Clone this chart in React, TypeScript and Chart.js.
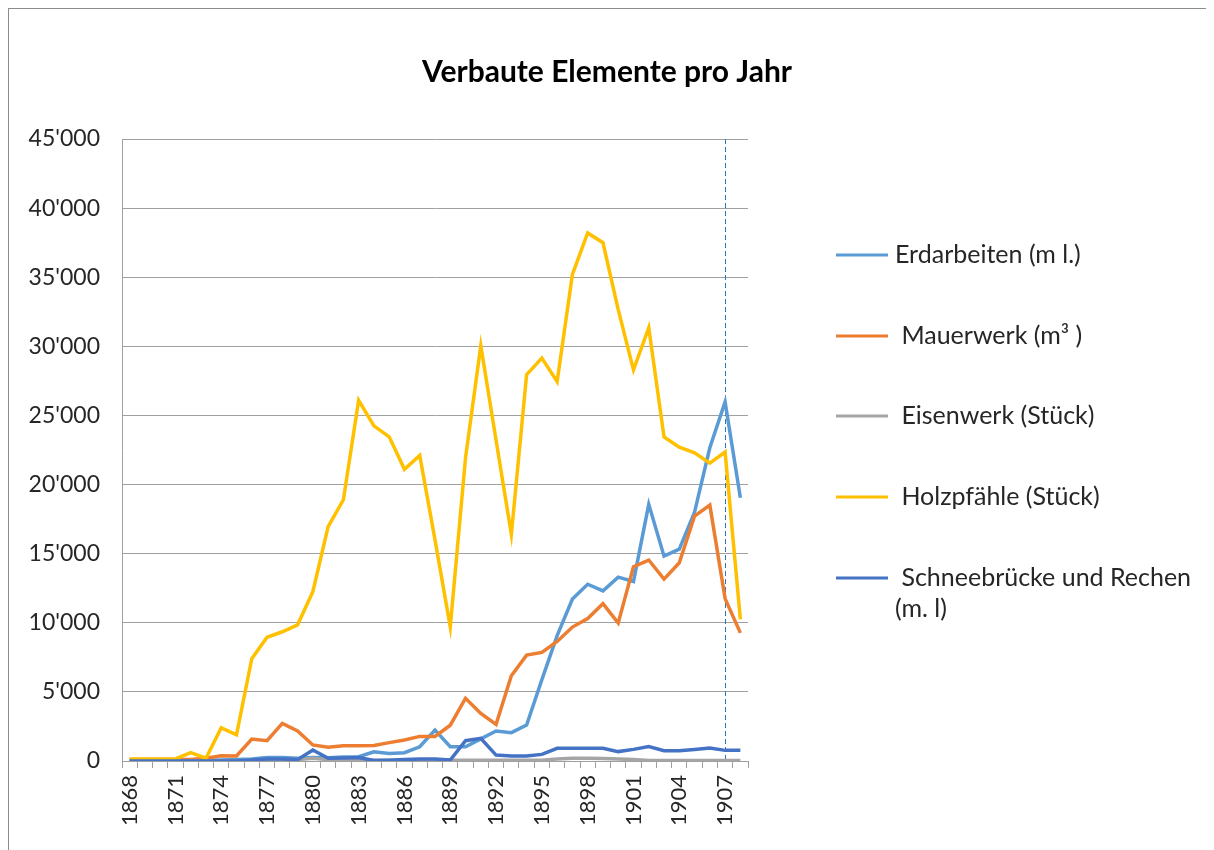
import React, { useEffect, useRef } from "react";
import { Chart, registerables } from "chart.js";

Chart.register(...registerables);

const years = [
  "1868", "1869", "1870", "1871", "1872", "1873", "1874", "1875", "1876", "1877",
  "1878", "1879", "1880", "1881", "1882", "1883", "1884", "1885", "1886", "1887",
  "1888", "1889", "1890", "1891", "1892", "1893", "1894", "1895", "1896", "1897",
  "1898", "1899", "1900", "1901", "1902", "1903", "1904", "1905", "1906", "1907",
  "1908",
];

const erdarbeiten = [
  30, 30, 30, 30, 30, 50, 80, 100, 150, 250,
  250, 200, 250, 240, 290, 310, 670, 550, 600, 1030,
  2240, 1030, 1030, 1600, 2170, 2050, 2600, 5890, 9070, 11720,
  12790, 12310, 13300, 12990, 18570, 14820, 15330, 18010, 22660, 25980,
  19050,
];

const mauerwerk = [
  100, 100, 100, 100, 100, 200, 380, 360, 1590, 1470,
  2720, 2170, 1160, 990, 1110, 1110, 1130, 1330, 1520, 1780,
  1780, 2590, 4540, 3440, 2650, 6170, 7660, 7860, 8650, 9690,
  10310, 11380, 9980, 14060, 14540, 13160, 14340, 17720, 18510, 11750,
  9270,
];

const eisenwerk = [
  0, 0, 0, 0, 0, 0, 0, 0, 50, 80,
  100, 100, 200, 100, 50, 50, 50, 50, 50, 50,
  50, 50, 50, 50, 50, 50, 50, 50, 150, 200,
  200, 180, 150, 100, 30, 30, 30, 30, 30, 30,
  30,
];

const holzpfaehle = [
  150, 150, 150, 150, 600, 200, 2400, 1900, 7400, 8950,
  9350, 9850, 12250, 16950, 18900, 26100, 24250, 23450, 21100, 22100,
  16000, 9700, 21950, 30050, 23200, 16400, 27950, 29150, 27450, 35200,
  38200, 37500, 32650, 28300, 31350, 23450, 22700, 22300, 21550, 22350,
  10250,
];

const schneebruecke = [
  0, 0, 0, 0, 0, 0, 0, 0, 80, 150,
  150, 100, 800, 200, 220, 250, 30, 60, 100, 145,
  145, 70, 1470, 1640, 430, 360, 360, 480, 920, 920,
  920, 920, 680, 840, 1040, 750, 750, 840, 940, 770,
  770,
];

const seriesLabels = [
  ["Erdarbeiten (m l.)"],
  [" Mauerwerk (m³ )"],
  [" Eisenwerk (Stück)"],
  [" Holzpfähle (Stück)"],
  [" Schneebrücke und Rechen", "(m. l)"],
];

const seriesColors = ["#5b9bd5", "#ed7d31", "#a5a5a5", "#ffc000", "#4472c4"];

const yTicks = [0, 5000, 10000, 15000, 20000, 25000, 30000, 35000, 40000, 45000];

const chartTitle = "Verbaute Elemente pro Jahr";
const markerYear = "1907";

const FONT = "Lato, 'Open Sans', sans-serif";

function fmt(v: number): string {
  return String(v).replace(/\B(?=(\d{3})+(?!\d))/g, "'");
}

const overlayPlugin = {
  id: "overlay",
  beforeDatasetsDraw(chart: any) {
    const { ctx, chartArea, scales } = chart;
    const x = Math.round(scales.x.getPixelForValue(years.indexOf(markerYear))) + 0.5;
    ctx.save();
    ctx.strokeStyle = "#2e75b6";
    ctx.lineWidth = 1;
    ctx.setLineDash([5, 3]);
    ctx.beginPath();
    ctx.moveTo(x, chartArea.top);
    ctx.lineTo(x, chartArea.bottom);
    ctx.stroke();
    ctx.restore();
  },
  afterDraw(chart: any) {
    const { ctx } = chart;
    ctx.save();
    ctx.fillStyle = "#000000";
    ctx.font = `bold 30px ${FONT}`;
    ctx.textAlign = "center";
    ctx.textBaseline = "middle";
    ctx.fillText(chartTitle, 598, 63);
    const rowY = [246, 327, 407, 488, 569];
    ctx.textAlign = "left";
    ctx.font = `25px ${FONT}`;
    chart.data.datasets.forEach((ds: any, i: number) => {
      const y = rowY[i];
      ctx.strokeStyle = ds.borderColor;
      ctx.lineWidth = 3;
      ctx.setLineDash([]);
      ctx.beginPath();
      ctx.moveTo(827, y);
      ctx.lineTo(879, y);
      ctx.stroke();
      ctx.fillStyle = "#262626";
      const lines = seriesLabels[i];
      lines.forEach((t, j) => {
        ctx.fillText(t, 886, y + j * 31);
      });
    });
    ctx.restore();
  },
};

export default function App() {
  const ref = useRef<HTMLCanvasElement | null>(null);

  useEffect(() => {
    document.body.style.overflow = "hidden";
    const canvas = ref.current;
    if (!canvas) return;
    const seriesData = [erdarbeiten, mauerwerk, eisenwerk, holzpfaehle, schneebruecke];
    const chart = new Chart(canvas, {
      type: "line",
      data: {
        labels: years,
        datasets: seriesData.map((d, i) => ({
          label: seriesLabels[i].join(" ").trim(),
          data: d,
          borderColor: seriesColors[i],
          backgroundColor: seriesColors[i],
          borderWidth: 3.5,
          pointRadius: 0,
          tension: 0,
          fill: false,
          order: 5 - i,
        })),
      },
      options: {
        responsive: false,
        animation: false,
        layout: { padding: { left: 0, top: 130, right: 466, bottom: 0 } },
        plugins: {
          legend: { display: false },
          title: { display: false },
          tooltip: { enabled: false },
        },
        scales: {
          x: {
            type: "category",
            offset: true,
            afterFit: (s: any) => {
              s.height = 89;
            },
            grid: {
              offset: true,
              drawOnChartArea: false,
              drawTicks: true,
              tickLength: 7,
              color: "#a0a0a0",
            },
            border: { color: "#a0a0a0", width: 1 },
            ticks: {
              autoSkip: false,
              maxRotation: 90,
              minRotation: 90,
              padding: 7,
              color: "#262626",
              font: { family: FONT, size: 22 },
              callback: (_v: any, i: number) => (i % 3 === 0 ? years[i] : ""),
            },
          },
          y: {
            min: 0,
            max: 45000,
            afterFit: (s: any) => {
              s.width = 113;
            },
            afterBuildTicks: (s: any) => {
              s.ticks = yTicks.map((v) => ({ value: v }));
            },
            grid: {
              drawTicks: false,
              color: "#a0a0a0",
            },
            border: { color: "#a0a0a0", width: 1 },
            ticks: {
              padding: 22,
              color: "#262626",
              font: { family: FONT, size: 23 },
              callback: (v: any) => fmt(Number(v)),
            },
          },
        },
      },
      plugins: [overlayPlugin],
    });
    return () => chart.destroy();
  }, []);

  return (
    <div
      style={{
        width: 1206,
        height: 842,
        borderTop: "1px solid #8c8c8c",
        borderLeft: "1px solid #8c8c8c",
        boxSizing: "border-box",
        background: "#ffffff",
      }}
    >
      <canvas ref={ref} width={1205} height={841} style={{ display: "block", width: 1205, height: 841 }} />
    </div>
  );
}
